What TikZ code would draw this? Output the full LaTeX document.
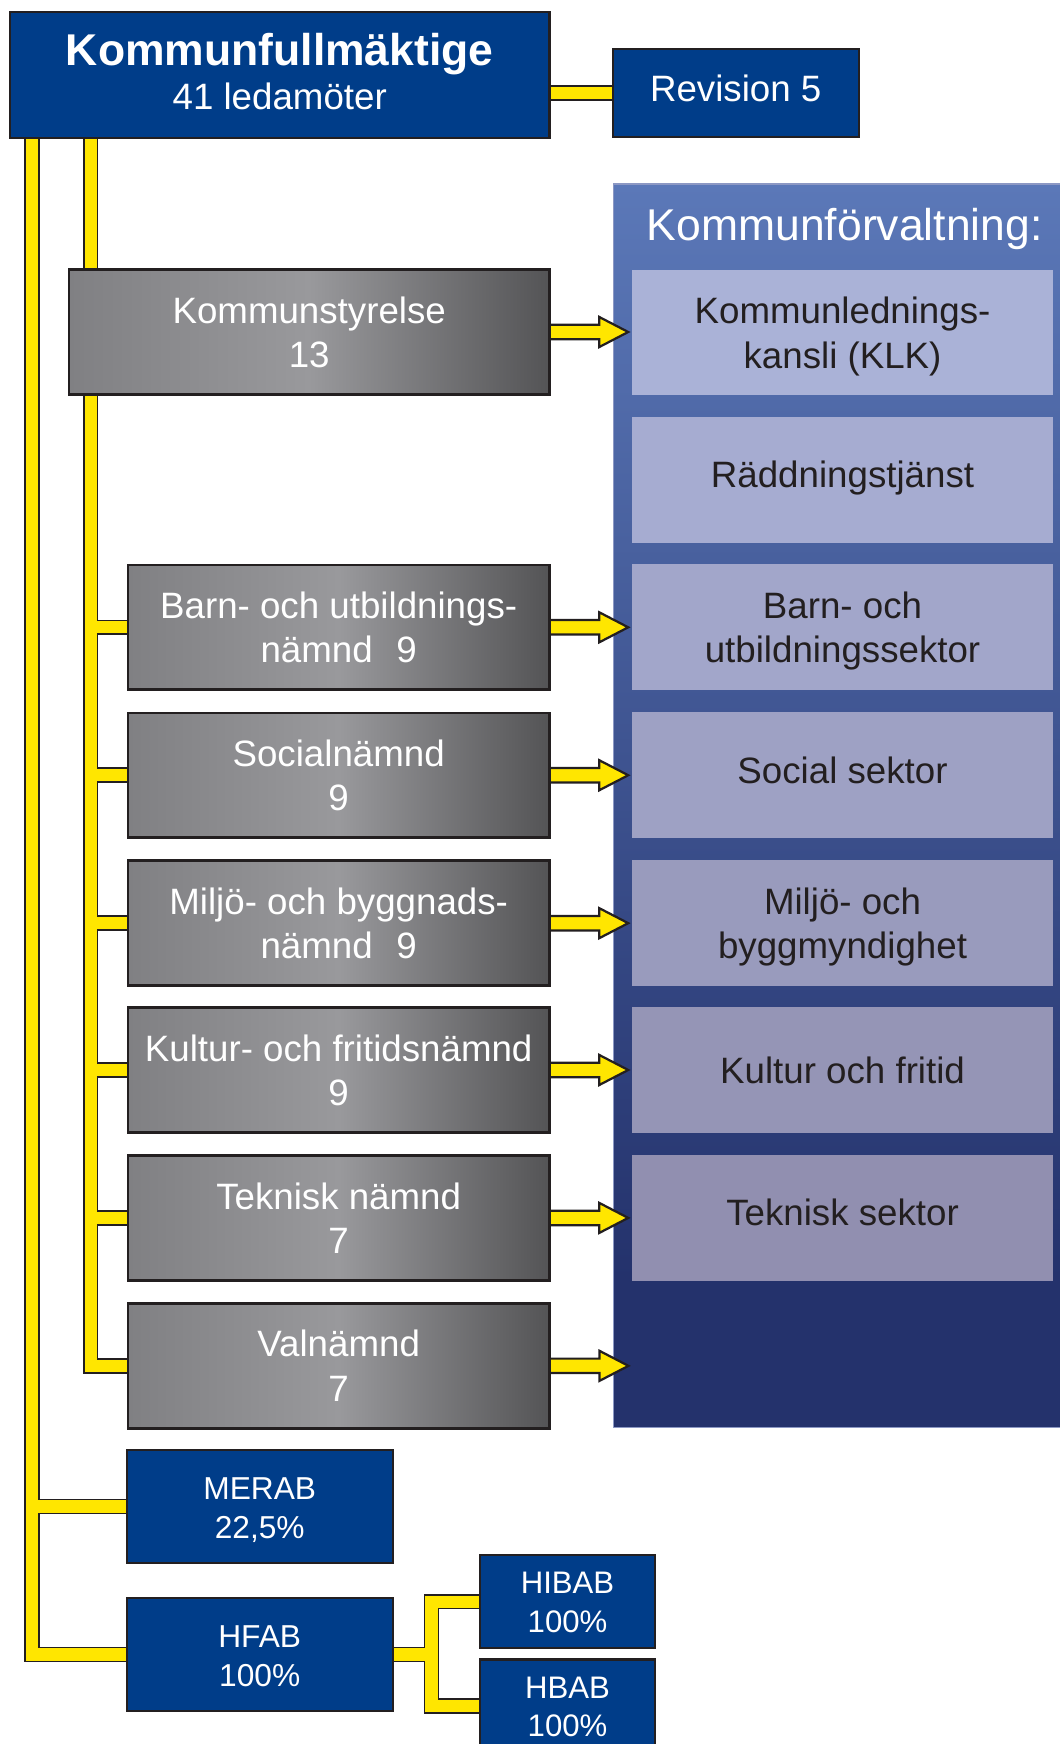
\documentclass[tikz,border=0pt]{standalone}
\usepackage{fontspec}
\setmainfont{Liberation Sans}
\usetikzlibrary{calc}
\definecolor{kfblue}{RGB}{0,61,137}
\definecolor{ylw}{RGB}{255,230,0}
\definecolor{outl}{RGB}{35,31,32}
\definecolor{panelTop}{RGB}{91,120,184}
\definecolor{panelBot}{RGB}{36,50,108}
\definecolor{panelEdge}{RGB}{140,152,196}
\definecolor{grayL}{RGB}{128,128,131}
\definecolor{grayM}{RGB}{153,153,156}
\definecolor{grayR}{RGB}{84,84,86}
\definecolor{txtdark}{RGB}{35,31,32}
\definecolor{secA}{RGB}{170,178,215}
\definecolor{secB}{RGB}{166,172,209}
\definecolor{secC}{RGB}{162,166,202}
\definecolor{secD}{RGB}{158,161,196}
\definecolor{secE}{RGB}{153,155,189}
\definecolor{secF}{RGB}{149,149,182}
\definecolor{secG}{RGB}{145,143,176}
\pgfdeclareverticalshading{panelshade}{100bp}{color(0bp)=(panelBot); color(31bp)=(panelBot); color(75bp)=(panelTop); color(100bp)=(panelTop)}
\pgfdeclarelayer{conn}
\pgfsetlayers{conn,main}
% struts that fix where the text lines sit inside their boxes
\newcommand\stTwo{\rule[-8pt]{0pt}{40pt}}
\newcommand\stOne{\rule[-13pt]{0pt}{40pt}}
\newcommand\stKF{\rule[-9pt]{0pt}{40pt}}
\newcommand\stRev{\rule[-12pt]{0pt}{40pt}}
\newcommand\stCo{\rule[-6pt]{0pt}{35pt}}
\newcommand\stSub{\rule[-7pt]{0pt}{34.5pt}}
\newcommand\wirepaths[1]{%
  \path[#1] ($(xA |- kf.south)+(0,-6)$) -- (xA |- hfab.west) -- (hfab.west);
  \path[#1] (xA |- merab.west) -- (merab.west);
  \path[#1] ($(xB |- kf.south)+(0,-6)$) -- (xB |- val.west) -- (val.west);
  \foreach \n in {bun,soc,mbn,kfn,tn} {\path[#1] (xB |- \n.west) -- (\n.west);}
  \path[#1] (hibab.west) -- (xC |- hibab.west) -- (xC |- hbab.west) -- (hbab.west);
  \path[#1] (hfab.east) -- (xC |- hfab.east);
  \path[#1] (kf.east |- rev.west) -- (rev.west);
}
\newcommand\yarrow[2]{%
  \draw[arrowpoly] let \p1=(#1.east), \p2=(#2) in
    (\x1-1pt,\y1+6.5pt) -- (\x2-29pt,\y1+6.5pt) -- (\x2-29pt,\y1+13.5pt) --
    (\x2-3pt,\y1) -- (\x2-29pt,\y1-13.5pt) -- (\x2-29pt,\y1-6.5pt) --
    (\x1-1pt,\y1-6.5pt) -- cycle;}
\begin{document}
\begin{tikzpicture}[x=1pt,y=-1pt,
  bluebox/.style={draw=outl,line width=2pt,fill=kfblue,text=white,inner sep=0pt,align=center},
  graybox/.style={draw=outl,line width=2.5pt,left color=grayL,right color=grayR,middle color=grayM,
    text=white,minimum width=379pt,minimum height=112pt,inner sep=0pt,align=center,
    font=\fontsize{33}{40}\selectfont},
  secbox/.style={fill=#1,text=txtdark,minimum width=379pt,minimum height=113pt,inner sep=0pt,
    align=center,font=\fontsize{33}{40}\selectfont},
  wireout/.style={draw=outl,line width=14pt,line join=miter},
  wirein/.style={draw=ylw,line width=11pt,line join=miter},
  arrowpoly/.style={draw=outl,fill=ylw,line width=2pt,line join=miter},
  compbox/.style={bluebox,minimum width=239pt,minimum height=101pt,font=\fontsize{28.5}{35}\selectfont},
  subbox/.style={bluebox,minimum width=157.5pt,minimum height=84pt,font=\fontsize{28}{34.5}\selectfont}
]
\useasboundingbox (0,0) rectangle (953,1568);
\clip (0,0) rectangle (953,1568);

% coordinates for the trunks
\coordinate (xA) at (29,0);
\coordinate (xB) at (81.5,0);
\coordinate (xC) at (388,0);
\coordinate (valtgt) at (568,1228);

% Kommunförvaltning panel
\node[draw=panelEdge,line width=1pt,shading=panelshade,minimum width=408.4pt,minimum height=1118.1pt,inner sep=0pt] (panel) at (755.8,724.45) {};
\node[anchor=base,text=white,font=\fontsize{40}{48}\selectfont,inner sep=0pt] (title) at (759.5,216) {Kommunförvaltning:};

\node[secbox=secA] (klk) at (757.5,299) {\stTwo Kommunlednings-\\\stTwo kansli (KLK)};
\node[secbox=secB] (rtj) at (757.5,431.5) {\stOne Räddningstjänst};
\node[secbox=secC] (bus) at (757.5,564) {\stTwo Barn- och\\\stTwo utbildningssektor};
\node[secbox=secD] (sos) at (757.5,697) {\stOne Social sektor};
\node[secbox=secE] (mbm) at (757.5,830) {\stTwo Miljö- och\\\stTwo byggmyndighet};
\node[secbox=secF] (kof) at (757.5,962) {\stTwo Kultur och fritid};
\node[secbox=secG] (tes) at (757.5,1095) {\stOne Teknisk sektor};

% top
\node[bluebox,minimum width=485pt,minimum height=113pt,font=\fontsize{33}{40}\selectfont] (kf) at (251.5,67.5)
  {\stKF{\fontsize{40}{40}\selectfont\bfseries Kommunfullmäktige}\\\stKF 41 ledamöter};
\node[bluebox,minimum width=221pt,minimum height=79pt,font=\fontsize{33}{40}\selectfont] (rev) at (661.5,83.5) {\stRev Revision 5};

% boards
\node[graybox,minimum width=432pt,minimum height=113pt] (ks) at (278,298.5) {\stTwo Kommunstyrelse\\\stTwo 13};
\node[graybox] (bun) at (304.5,564) {\stTwo Barn- och utbildnings-\\\stTwo nämnd\hspace{12pt} 9};
\node[graybox] (soc) at (304.5,697) {\stTwo Socialnämnd\\\stTwo 9};
\node[graybox] (mbn) at (304.5,830) {\stTwo Miljö- och byggnads-\\\stTwo nämnd\hspace{12pt} 9};
\node[graybox] (kfn) at (304.5,962) {\stTwo Kultur- och fritidsnämnd\\\stTwo 9};
\node[graybox] (tn) at (304.5,1095) {\stTwo Teknisk nämnd\\\stTwo 7};
\node[graybox] (val) at (304.5,1228) {\stTwo Valnämnd\\\stTwo 7};

% companies
\node[compbox] (merab) at (233.5,1354.5) {\stCo MERAB\\\stCo 22,5\%};
\node[compbox] (hfab) at (233.5,1487.5) {\stCo HFAB\\\stCo 100\%};
\node[subbox] (hibab) at (510.25,1440) {\stSub HIBAB\\\stSub 100\%};
\node[subbox] (hbab) at (510.25,1534) {\stSub HBAB\\\stSub 100\%};

% yellow connectors
\begin{pgfonlayer}{conn}
  \wirepaths{wireout}
  \wirepaths{wirein}
\end{pgfonlayer}

% arrows
\yarrow{ks}{klk.west}
\yarrow{bun}{bus.west}
\yarrow{soc}{sos.west}
\yarrow{mbn}{mbm.west}
\yarrow{kfn}{kof.west}
\yarrow{tn}{tes.west}
\yarrow{val}{valtgt}
\end{tikzpicture}
\end{document}
